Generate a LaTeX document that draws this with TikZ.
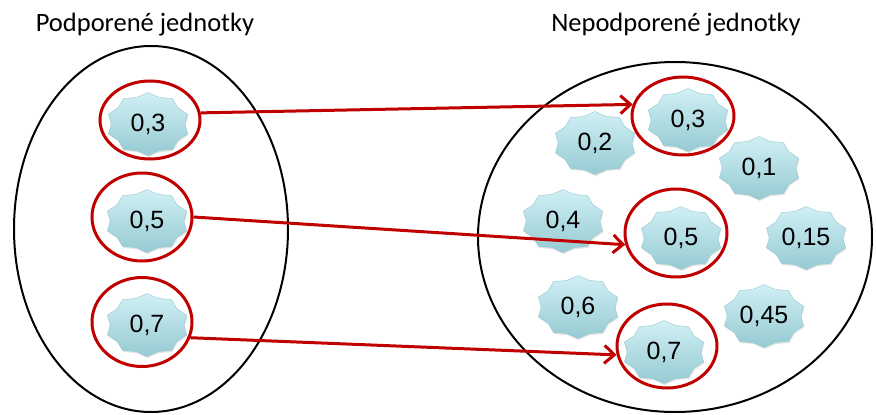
\documentclass[tikz,border=0pt]{standalone}
\usepackage{fontspec}
\setmainfont{Liberation Sans}
\newfontfamily\titlefont{Carlito}
\usetikzlibrary{shapes.geometric,arrows.meta,shadows}
\definecolor{ringred}{RGB}{192,0,0}
\definecolor{starhi}{RGB}{208,240,245}
\definecolor{starlo}{RGB}{150,202,210}
\definecolor{starline}{RGB}{150,200,210}
\tikzset{
  bigell/.style={ellipse, draw=black, line width=2pt, inner sep=0pt},
  ring/.style={ellipse, draw=ringred, line width=3pt, inner sep=0pt},
  starb/.style={star, star points=10, star point ratio=1.13, minimum size=63pt, inner sep=0pt,
    xscale=1.32, transform shape, top color=starhi, bottom color=starlo, draw=starline, line width=0.4pt,
    drop shadow={opacity=0.22, shadow xshift=0.8pt, shadow yshift=-1.5pt}},
  lbl/.style={font=\fontsize{25}{27}\selectfont, text=black, inner sep=0pt},
  ttl/.style={font=\titlefont\fontsize{26.5}{28}\selectfont, text=black, inner sep=0pt, anchor=base},
  arr/.style={draw=ringred, line width=3pt, -{Straight Barb[length=10pt, width=18pt, line width=3pt]}},
}
\begin{document}
\begin{tikzpicture}[x=1pt, y=-1pt]
\useasboundingbox (0,0) rectangle (876,415);
% titles
\node[ttl] (tl) at (145,31) {Podporené jednotky};
\node[ttl] (tr) at (676,31) {Nepodporené jednotky};
% big ellipses
\node[bigell, minimum width=274pt, minimum height=366pt] (L) at (151,229) {};
\node[bigell, minimum width=394pt, minimum height=350pt] (R) at (675,237) {};
% stars left
\node[starb] (sl3) at (148,124) {};
\node[starb] (sl5) at (147,221) {};
\node[starb] (sl7) at (147,325) {};
% stars right
\node[starb] (sr3) at (688,120) {};
\node[starb] (sr2) at (595,143) {};
\node[starb] (sr1) at (759,168) {};
\node[starb] (sr4) at (563,221) {};
\node[starb] (sr5) at (681,238) {};
\node[starb] (sr15) at (806,238) {};
\node[starb] (sr6) at (578,307) {};
\node[starb] (sr45) at (764,316) {};
\node[starb] (sr7) at (664,352) {};
% labels
\node[lbl] (tl3) at (sl3) {0,3};
\node[lbl] (tl5) at (sl5) {0,5};
\node[lbl] (tl7) at (sl7) {0,7};
\node[lbl] (tr3) at (sr3) {0,3};
\node[lbl] (tr2) at (sr2) {0,2};
\node[lbl] (tr1) at (sr1) {0,1};
\node[lbl] (tr4) at (sr4) {0,4};
\node[lbl] (tr5) at (sr5) {0,5};
\node[lbl] (tr15) at (sr15) {0,15};
\node[lbl] (tr6) at (sr6) {0,6};
\node[lbl] (tr45) at (sr45) {0,45};
\node[lbl] (tr7) at (sr7) {0,7};
% rings
\node[ring, minimum width=100pt, minimum height=78pt] (rl3) at (150,120) {};
\node[ring, minimum width=100pt, minimum height=88pt] (rl5) at (142,217) {};
\node[ring, minimum width=100pt, minimum height=89pt] (rl7) at (142,322) {};
\node[ring, minimum width=102pt, minimum height=78pt] (rr3) at (683,116) {};
\node[ring, minimum width=102pt, minimum height=88pt] (rr5) at (676,233) {};
\node[ring, minimum width=100pt, minimum height=84pt] (rr7) at (667,346) {};
% arrows
\draw[arr] (rl3.8) -- (rr3.167);
\draw[arr] (rl5.0) -- (rr5.193);
\draw[arr] (rl7.-18) -- (rr7.190);
\end{tikzpicture}
\end{document}
